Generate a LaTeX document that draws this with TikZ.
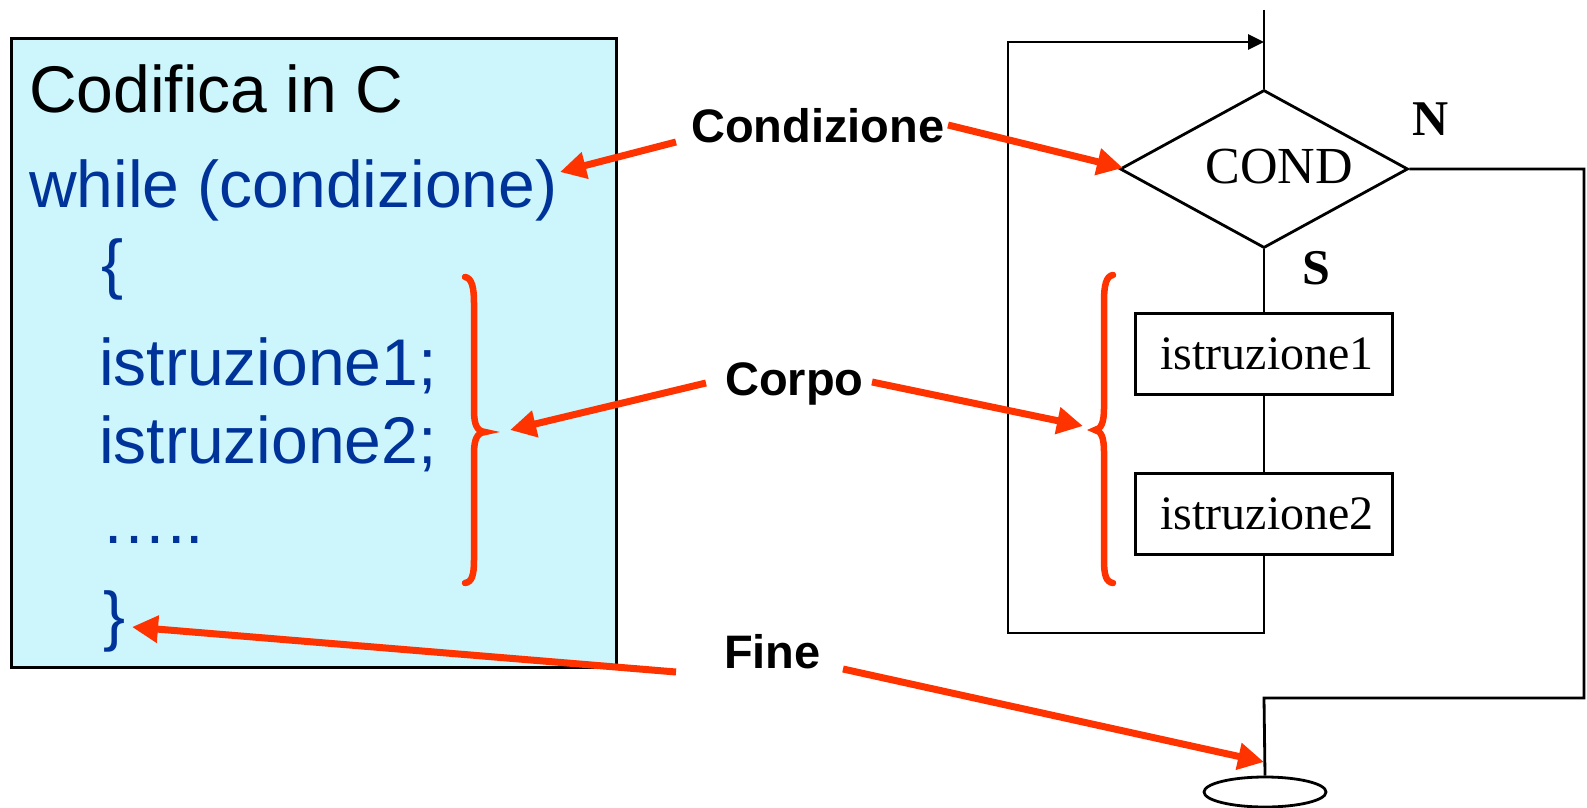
\documentclass[tikz,border=0pt]{standalone}
\usepackage{fontspec}
\setmainfont{Liberation Serif}
\newfontfamily\arial{Liberation Sans}
\usetikzlibrary{arrows.meta,shapes.geometric}
\definecolor{boxfill}{RGB}{204,245,252}
\definecolor{codeblue}{RGB}{0,51,153}
\definecolor{hired}{RGB}{255,51,0}
\tikzset{
  codetext/.style={anchor=base west,inner sep=0pt,font=\arial\fontsize{66}{70}\selectfont},
  lbltext/.style={anchor=base west,inner sep=0pt,font=\arial\bfseries\fontsize{47}{50}\selectfont},
  redarrow/.style={draw=hired,line width=7pt,-{Triangle[length=26pt,width=26pt]}},
  redbrace/.style={draw=hired,line width=6.5pt,line cap=round},
  flow/.style={draw=black,line width=2.8pt},
  instbox/.style={flow,rectangle,minimum width=257pt,minimum height=81pt,inner sep=0pt,font=\fontsize{48}{50}\selectfont},
}
\begin{document}
\begin{tikzpicture}[x=1pt,y=-1pt]
\useasboundingbox (0,0) rectangle (1587,808);

% code box
\node[draw=black,line width=3pt,fill=boxfill,rectangle,minimum width=605pt,minimum height=629pt,anchor=north west,inner sep=0pt] (codebox) at (10,37) {};
\node[codetext] (title) at (29,112) {Codifica in C};
\node[codetext,text=codeblue] (whilel) at (29,207) {while (condizione)};
\node[codetext,text=codeblue] (obrace) at (101,286) {\{};
\node[codetext,text=codeblue] (i1l) at (99,385) {istruzione1;};
\node[codetext,text=codeblue] (i2l) at (99,463) {istruzione2;};
\node[codetext,text=codeblue] (dots) at (101,543) {…..};
\node[codetext,text=codeblue] (cbrace) at (103,638) {\}};

% labels
\node[lbltext] (lcond) at (691,142) {Condizione};
\node[lbltext] (lcorpo) at (725,395) {Corpo};
\node[lbltext] (lfine) at (724,668) {Fine};

% flowchart
\node[flow,diamond,minimum width=288pt,minimum height=158pt,aspect=1.82,inner sep=0pt] (cond) at (1264,169) {};
\node[anchor=base,inner sep=0pt,font=\fontsize{52}{54}\selectfont] (condtxt) at (1279,183) {COND};
\node[instbox] (ist1) at (1264,354) {\hspace*{6pt}istruzione1};
\node[instbox] (ist2) at (1264,514) {\hspace*{6pt}istruzione2};
\node[flow,ellipse,minimum width=122pt,minimum height=30pt,inner sep=0pt] (endnode) at (1265,792) {};
\node[anchor=base west,inner sep=0pt,font=\bfseries\fontsize{50}{52}\selectfont] (nlab) at (1412,135) {N};
\node[anchor=base west,inner sep=0pt,font=\bfseries\fontsize{50}{52}\selectfont] (slab) at (1302,284) {S};

\coordinate (topin) at (1264,10);
\coordinate (loopbr) at (1264,633);
\coordinate (loopbl) at (1008,633);
\coordinate (looptl) at (1008,42);
\coordinate (looptr) at (1264,42);
\coordinate (exitr) at (1584,169);
\coordinate (exitbr) at (1584,698);
\coordinate (exitbl) at (1264,698);

\draw[flow] (topin) -- (cond.north);
\draw[flow] (cond.south) -- (ist1.north);
\draw[flow] (ist1.south) -- (ist2.north);
\draw[flow,-{Triangle[length=16pt,width=15pt]}] (ist2.south) -- (loopbr) -- (loopbl) -- (looptl) -- (looptr);
\draw[flow] (cond.east) -- (exitr) -- (exitbr) -- (exitbl) -- (endnode.north);

% red braces
\draw[redbrace] (465,277) .. controls (472,278) and (474,288) .. (474,303) -- (474,410) .. controls (474,425) and (477,431) .. (485,432) .. controls (477,433) and (474,439) .. (474,454) -- (474,560) .. controls (474,575) and (472,582) .. (465,583);
\draw[redbrace] (1113,275) .. controls (1106,276) and (1104,286) .. (1104,301) -- (1104,408) .. controls (1104,423) and (1101,429) .. (1095,430) .. controls (1101,431) and (1104,437) .. (1104,452) -- (1104,560) .. controls (1104,575) and (1106,582) .. (1113,583);

% red arrows
\coordinate (a1s) at (676,142);
\coordinate (a1t) at (560,172);
\coordinate (a2s) at (948,125);
\coordinate (a2t) at (1123,168);
\coordinate (a3s) at (706,383);
\coordinate (a3t) at (510,430);
\coordinate (a4s) at (872,382);
\coordinate (a4t) at (1083,426);
\coordinate (a5s) at (676,672);
\coordinate (a5t) at (132,627);
\coordinate (a6s) at (843,669);
\coordinate (a6t) at (1264,762);
\draw[redarrow] (a1s) -- (a1t);
\draw[redarrow] (a2s) -- (a2t);
\draw[redarrow] (a3s) -- (a3t);
\draw[redarrow] (a4s) -- (a4t);
\draw[redarrow] (a5s) -- (a5t);
\draw[redarrow] (a6s) -- (a6t);
\end{tikzpicture}
\end{document}
